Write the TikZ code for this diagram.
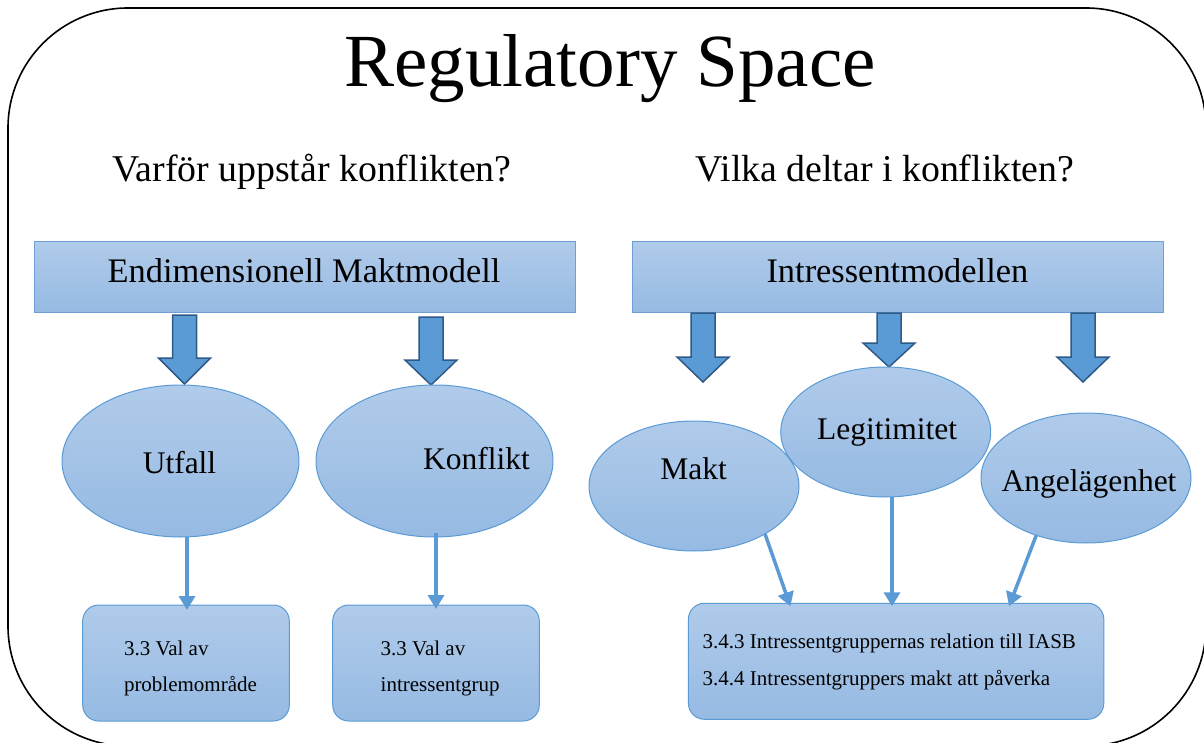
\documentclass[tikz,border=0pt]{standalone}
\usepackage{fontspec}
\setmainfont{Liberation Serif}
\usetikzlibrary{arrows.meta,shapes.geometric,calc}
\definecolor{accent}{RGB}{91,155,213}
\definecolor{arrowline}{RGB}{47,89,135}
\definecolor{gradtop}{RGB}{176,203,234}
\definecolor{gradbot}{RGB}{150,186,227}
\definecolor{boxline}{RGB}{110,160,215}
\newcommand{\blockarrow}[4]{%
  \draw[bigarrow] (#1-12,#2) -- (#1+12,#2) -- (#1+12,#3) -- (#1+26,#3) -- (#1,#4) -- (#1-26,#3) -- (#1-12,#3) -- cycle;}
\begin{document}
\begin{tikzpicture}[x=1pt,y=-1pt,
  every node/.style={inner sep=0pt, outer sep=0pt},
  band/.style={rectangle, draw=boxline, line width=1pt, top color=gradtop, bottom color=gradbot},
  oval/.style={ellipse, draw=accent, line width=1pt, top color=gradtop, bottom color=gradbot},
  leaf/.style={rectangle, rounded corners=16pt, draw=accent, line width=1pt, top color=gradtop, bottom color=gradbot},
  link/.style={draw=accent, line width=3.5pt, -{Triangle[length=14pt,width=16pt]}},
  bigarrow/.style={fill=accent, draw=arrowline, line width=1.5pt, line join=miter},
  title/.style={anchor=base, font=\fontsize{75}{90}\selectfont},
  question/.style={anchor=base, font=\fontsize{37.8}{45}\selectfont},
  bandtext/.style={anchor=base, font=\fontsize{34.4}{41}\selectfont},
  ovaltext/.style={anchor=base, font=\fontsize{31.5}{38}\selectfont},
  leaftext/.style={anchor=base west, font=\fontsize{21}{25}\selectfont}
]
\useasboundingbox (0,0) rectangle (1204,743);
\begin{scope}
\clip (0,0) rectangle (1204,743);
\draw[line width=1.6pt, rounded corners=120pt] (8,8) rectangle (1206,746);
\end{scope}

\node[title] (ttl) at (610,87) {Regulatory Space};
\node[question] (q1) at (312,182) {Varför uppstår konflikten?};
\node[question] (q2) at (885,182) {Vilka deltar i konflikten?};

\node[band, minimum width=541.4pt, minimum height=71pt] (endim) at (305,277.2) {};
\node[bandtext] (endimt) at (304,282.7) {Endimensionell Maktmodell};
\node[band, minimum width=530.5pt, minimum height=71pt] (intr) at (898,277.2) {};
\node[bandtext] (intrt) at (897.4,282.5) {Intressentmodellen};

\blockarrow{184.5}{315}{358}{384}
\blockarrow{431}{317}{360}{385}
\blockarrow{703}{313}{357}{382}
\blockarrow{889}{313}{343}{367}
\blockarrow{1083}{313}{357}{382}

\node[oval, minimum width=237pt, minimum height=152pt] (utfall) at (180.5,461) {};
\node[ovaltext] (utfallt) at (179.5,473) {Utfall};
\node[oval, minimum width=237pt, minimum height=152pt] (konf) at (434.5,461) {};
\node[ovaltext] (konft) at (476.5,469.5) {Konflikt};
\node[oval, minimum width=210pt, minimum height=130pt] (makt) at (694,486) {};
\node[ovaltext] (maktt) at (693.5,479) {Makt};
\node[oval, minimum width=210pt, minimum height=130pt] (legit) at (885.7,432) {};
\node[ovaltext] (legitt) at (887,439) {Legitimitet};
\node[oval, minimum width=210pt, minimum height=130pt] (angel) at (1086,478) {};
\node[ovaltext] (angelt) at (1089,491.7) {Angelägenhet};

\node[leaf, minimum width=206.6pt, minimum height=116pt] (box1) at (186,663) {};
\node[leaftext] (box1a) at (124,655) {3.3 Val av};
\node[leaftext] (box1b) at (124,691) {problemområde};
\node[leaf, minimum width=206.6pt, minimum height=116pt] (box2) at (436,663) {};
\node[leaftext] (box2a) at (380.7,655) {3.3 Val av};
\node[leaftext] (box2b) at (380.7,691) {intressentgrup};
\node[leaf, minimum width=415.4pt, minimum height=116pt] (box3) at (896.1,661.3) {};
\node[leaftext] (box3a) at (702.7,648.3) {3.4.3 Intressentgruppernas relation till IASB};
\node[leaftext] (box3b) at (702.7,685) {3.4.4 Intressentgruppers makt att påverka};

\draw[link] ($(utfall.south)+(6.5,0)$) -- ($(box1.north)+(1,5)$);
\draw[link] ($(konf.south)+(1.5,-4)$) -- ($(box2.north)+(0,4)$);
\draw[link] (makt.-34.5) -- ($(box3.north west)+(102,3)$);
\draw[link] (legit.south) ++(6.3,0) coordinate (legitout) (legitout) -- ($(box3.north)+(-4.1,3)$);
\draw[link] (angel.-131) -- ($(box3.north west)+(320.6,3)$);
\end{tikzpicture}
\end{document}
